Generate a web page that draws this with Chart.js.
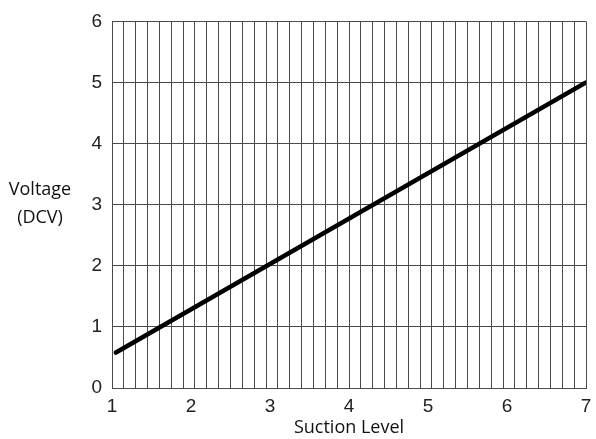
<!DOCTYPE html>
<html>
<head>
<meta charset="utf-8">
<script src="https://cdn.jsdelivr.net/npm/chart.js@4.4.1/dist/chart.umd.min.js"></script>
<style>
  html, body { margin: 0; padding: 0; background: #fff; }
  #wrap { width: 596px; height: 439px; position: relative; }
</style>
</head>
<body>
<div id="wrap"><canvas id="chart"></canvas></div>
<script>
// data
const suctionLevel = [1.05, 7];
const voltage = [0.58, 5.0];
const xLabels = [1, 2, 3, 4, 5, 6, 7];
const yLabels = [0, 1, 2, 3, 4, 5, 6];
const xDivisions = 40;           // vertical grid lines across the plot
const yTitleLines = ['Voltage', '(DCV)'];
const xTitle = 'Suction Level';

const GRID = '#4a4a4a';
const TEXT = '#222';

const xMin = xLabels[0], xMax = xLabels[xLabels.length - 1];
const xGrid = [];
for (let i = 0; i <= xDivisions; i++) {
  xGrid.push(xMin + (xMax - xMin) * i / xDivisions);
}
const near = (a, b) => Math.abs(a - b) < 1e-6;
const isGridLine = v => xGrid.some(g => near(g, v));
const isLabel = v => xLabels.some(l => near(l, v));

// grid lines plus the integer labels (which mostly fall between lines)
const xTicks = xGrid.concat(xLabels.filter(l => !isGridLine(l))).sort((a, b) => a - b);

const points = suctionLevel.map((x, i) => ({ x, y: voltage[i] }));

// horizontal y-axis title at the left
const yTitlePlugin = {
  id: 'yTitle',
  afterDraw(chart) {
    const ctx = chart.ctx;
    const area = chart.chartArea;
    const mid = (area.top + area.bottom) / 2;
    ctx.save();
    ctx.font = '18px "Open Sans", sans-serif';
    ctx.fillStyle = '#111';
    ctx.textAlign = 'center';
    ctx.textBaseline = 'middle';
    ctx.fillText(yTitleLines[0], 40, mid - 15);
    ctx.fillText(yTitleLines[1], 40, mid + 13);
    ctx.restore();
  }
};

new Chart(document.getElementById('chart'), {
  type: 'scatter',
  data: {
    datasets: [{
      data: points,
      showLine: true,
      borderColor: '#000',
      borderWidth: 4.5,
      borderCapStyle: 'round',
      pointRadius: 0,
      fill: false,
    }],
  },
  options: {
    responsive: true,
    maintainAspectRatio: false,
    animation: false,
    layout: { padding: { top: 20, right: 0, left: 0, bottom: 0 } },
    plugins: {
      legend: { display: false },
      tooltip: { enabled: false },
    },
    scales: {
      x: {
        type: 'linear',
        min: xMin,
        max: xMax,
        afterBuildTicks: scale => { scale.ticks = xTicks.map(v => ({ value: v })); },
        afterFit: scale => {
          scale.height = 51;
          scale.paddingRight = 10;
          scale.paddingLeft = 0;
        },
        grid: {
          color: c => (c.tick && isGridLine(c.tick.value)) ? GRID : 'rgba(0,0,0,0)',
          lineWidth: 1,
          drawTicks: false,
        },
        border: { color: GRID, width: 1 },
        ticks: {
          autoSkip: false,
          maxRotation: 0,
          padding: 7,
          color: TEXT,
          font: { family: '"Liberation Sans", Arial, sans-serif', size: 19 },
          callback: v => isLabel(v) ? Math.round(v) : '',
        },
        title: {
          display: true,
          text: xTitle,
          color: '#111',
          padding: { top: 0, bottom: 0 },
          font: { family: '"Open Sans", sans-serif', size: 18 },
        },
      },
      y: {
        min: yLabels[0],
        max: yLabels[yLabels.length - 1],
        afterBuildTicks: scale => { scale.ticks = yLabels.map(v => ({ value: v })); },
        afterFit: scale => { scale.width = 112; },
        grid: { color: GRID, lineWidth: 1, drawTicks: false },
        border: { color: GRID, width: 1 },
        ticks: {
          padding: 10,
          color: TEXT,
          font: { family: '"Liberation Sans", Arial, sans-serif', size: 19 },
        },
      },
    },
  },
  plugins: [yTitlePlugin],
});
</script>
</body>
</html>
